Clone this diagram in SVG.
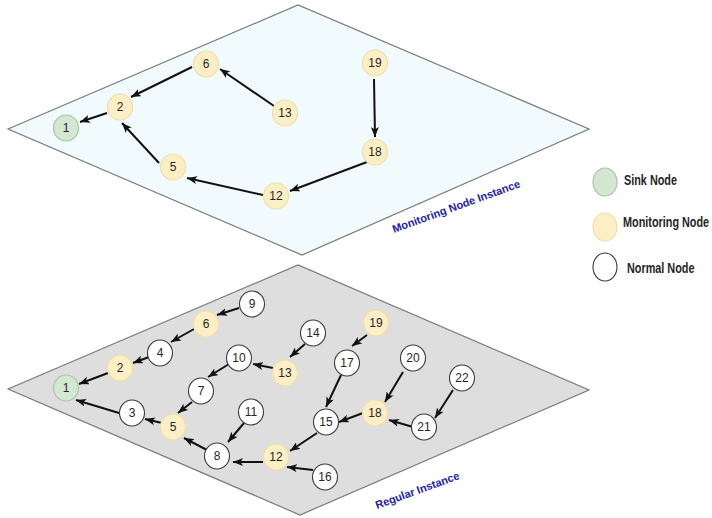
<svg xmlns="http://www.w3.org/2000/svg" width="712" height="518" viewBox="0 0 712 518">
  <style>
    .plane-top { fill: #f1fafc; stroke: #7a7a7a; stroke-width: 1.2; }
    .plane-bottom { fill: #dedede; stroke: #7a7a7a; stroke-width: 1.2; }
    .sink { fill: #d4e7d2; stroke: #a9c6a5; stroke-width: 1.2; }
    .mon { fill: #fcefc6; stroke: #eedfa9; stroke-width: 1.2; }
    .normal { fill: #ffffff; stroke: #3a3a3a; stroke-width: 1.1; }
    .lbl { font-family: "Liberation Sans", Arial, sans-serif; font-size: 12px; fill: #262626; text-anchor: middle; }
    .edge { stroke: #111; stroke-width: 2; fill: none; marker-end: url(#arrow); }
    .legend { font-family: "Liberation Sans", Arial, sans-serif; font-size: 14px; font-weight: bold; fill: #262626; }
    .plane-name { font-family: "Liberation Sans", Arial, sans-serif; font-size: 11px; font-weight: bold; fill: #2323a6; }
  </style>
  <defs>
    <marker id="arrow" markerWidth="10" markerHeight="8" refX="10" refY="4" orient="auto" markerUnits="userSpaceOnUse">
      <path d="M0,0 L10,4 L0,8 L2.5,4 Z" fill="#111"/>
    </marker>
  </defs>

  <!-- planes -->
  <polygon class="plane-top" points="8,129 298,5 589,129 302,255"/>
  <polygon class="plane-bottom" points="8,389 298,265 589,390 300,515"/>
  <text class="plane-name" transform="translate(394,233) rotate(-20)">Monitoring Node Instance</text>
  <text class="plane-name" transform="translate(377,509) rotate(-20)">Regular Instance</text>

  <!-- connectors -->
  <g id="connectors">
    <!-- monitoring instance -->
    <line class="edge" x1="107" y1="113" x2="80" y2="122"/>
    <line class="edge" x1="192" y1="67" x2="131" y2="97"/>
    <line class="edge" x1="274" y1="106" x2="220" y2="69"/>
    <line class="edge" x1="159" y1="163" x2="122" y2="123"/>
    <line class="edge" x1="263" y1="195" x2="187" y2="178"/>
    <line class="edge" x1="367" y1="162" x2="290" y2="191"/>
    <line class="edge" x1="374" y1="79" x2="375" y2="137"/>
    <!-- regular instance -->
    <line class="edge" x1="239" y1="308" x2="217" y2="315"/>
    <line class="edge" x1="194" y1="329" x2="171" y2="342"/>
    <line class="edge" x1="149" y1="357" x2="133" y2="363"/>
    <line class="edge" x1="108" y1="373" x2="79" y2="384"/>
    <line class="edge" x1="119" y1="413" x2="76" y2="400"/>
    <line class="edge" x1="162" y1="423" x2="145" y2="419"/>
    <line class="edge" x1="192" y1="402" x2="178" y2="413"/>
    <line class="edge" x1="229" y1="364" x2="208" y2="377"/>
    <line class="edge" x1="273" y1="368" x2="253" y2="364"/>
    <line class="edge" x1="305" y1="344" x2="290" y2="357"/>
    <line class="edge" x1="244" y1="423" x2="228" y2="442"/>
    <line class="edge" x1="207" y1="450" x2="184" y2="438"/>
    <line class="edge" x1="263" y1="462" x2="233" y2="462"/>
    <line class="edge" x1="313" y1="470" x2="287" y2="467"/>
    <line class="edge" x1="317" y1="433" x2="290" y2="451"/>
    <line class="edge" x1="341" y1="375" x2="326" y2="407"/>
    <line class="edge" x1="367" y1="335" x2="352" y2="346"/>
    <line class="edge" x1="363" y1="413" x2="339" y2="422"/>
    <line class="edge" x1="403" y1="372" x2="385" y2="402"/>
    <line class="edge" x1="413" y1="427" x2="389" y2="420"/>
    <line class="edge" x1="453" y1="390" x2="435" y2="418"/>
  </g>

  <!-- monitoring node instance -->
  <g id="m1"><ellipse class="sink" cx="66" cy="128" rx="12.5" ry="13"/><text class="lbl" x="66" y="132">1</text></g>
  <g id="m2"><ellipse class="mon" cx="120" cy="107" rx="12.5" ry="13"/><text class="lbl" x="120" y="111">2</text></g>
  <g id="m6"><ellipse class="mon" cx="206" cy="64" rx="12.5" ry="13"/><text class="lbl" x="206" y="68">6</text></g>
  <g id="m13"><ellipse class="mon" cx="285" cy="113" rx="12.5" ry="13"/><text class="lbl" x="285" y="117">13</text></g>
  <g id="m5"><ellipse class="mon" cx="173" cy="167" rx="12.5" ry="13"/><text class="lbl" x="173" y="171">5</text></g>
  <g id="m12"><ellipse class="mon" cx="276" cy="196" rx="12.5" ry="13"/><text class="lbl" x="276" y="200">12</text></g>
  <g id="m19"><ellipse class="mon" cx="375" cy="63" rx="12.5" ry="13"/><text class="lbl" x="375" y="67">19</text></g>
  <g id="m18"><ellipse class="mon" cx="375" cy="152" rx="12.5" ry="13"/><text class="lbl" x="375" y="156">18</text></g>

  <!-- regular instance -->
  <g id="r1"><ellipse class="sink" cx="66" cy="388" rx="12.5" ry="13"/><text class="lbl" x="66" y="392">1</text></g>
  <g id="r2"><ellipse class="mon" cx="120" cy="368" rx="12.5" ry="13"/><text class="lbl" x="120" y="372">2</text></g>
  <g id="r4"><ellipse class="normal" cx="160" cy="353" rx="12.5" ry="13"/><text class="lbl" x="160" y="357">4</text></g>
  <g id="r6"><ellipse class="mon" cx="206" cy="324" rx="12.5" ry="13"/><text class="lbl" x="206" y="328">6</text></g>
  <g id="r9"><ellipse class="normal" cx="252" cy="304" rx="12.5" ry="13"/><text class="lbl" x="252" y="308">9</text></g>
  <g id="r3"><ellipse class="normal" cx="132" cy="413" rx="12.5" ry="13"/><text class="lbl" x="132" y="417">3</text></g>
  <g id="r5"><ellipse class="mon" cx="173" cy="427" rx="12.5" ry="13"/><text class="lbl" x="173" y="431">5</text></g>
  <g id="r7"><ellipse class="normal" cx="201" cy="391" rx="12.5" ry="13"/><text class="lbl" x="201" y="395">7</text></g>
  <g id="r10"><ellipse class="normal" cx="239" cy="358" rx="12.5" ry="13"/><text class="lbl" x="239" y="362">10</text></g>
  <g id="r13"><ellipse class="mon" cx="285" cy="373" rx="12.5" ry="13"/><text class="lbl" x="285" y="377">13</text></g>
  <g id="r14"><ellipse class="normal" cx="313" cy="333" rx="12.5" ry="13"/><text class="lbl" x="313" y="337">14</text></g>
  <g id="r11"><ellipse class="normal" cx="251" cy="412" rx="12.5" ry="13"/><text class="lbl" x="251" y="416">11</text></g>
  <g id="r8"><ellipse class="normal" cx="217" cy="456" rx="12.5" ry="13"/><text class="lbl" x="217" y="460">8</text></g>
  <g id="r12"><ellipse class="mon" cx="276" cy="457" rx="12.5" ry="13"/><text class="lbl" x="276" y="461">12</text></g>
  <g id="r16"><ellipse class="normal" cx="325" cy="477" rx="12.5" ry="13"/><text class="lbl" x="325" y="481">16</text></g>
  <g id="r15"><ellipse class="normal" cx="326" cy="422" rx="12.5" ry="13"/><text class="lbl" x="326" y="426">15</text></g>
  <g id="r17"><ellipse class="normal" cx="347" cy="363" rx="12.5" ry="13"/><text class="lbl" x="347" y="367">17</text></g>
  <g id="r19"><ellipse class="mon" cx="376" cy="323" rx="12.5" ry="13"/><text class="lbl" x="376" y="327">19</text></g>
  <g id="r20"><ellipse class="normal" cx="413" cy="358" rx="12.5" ry="13"/><text class="lbl" x="413" y="362">20</text></g>
  <g id="r22"><ellipse class="normal" cx="462" cy="378" rx="12.5" ry="13"/><text class="lbl" x="462" y="382">22</text></g>
  <g id="r18"><ellipse class="mon" cx="375" cy="413" rx="12.5" ry="13"/><text class="lbl" x="375" y="417">18</text></g>
  <g id="r21"><ellipse class="normal" cx="424" cy="427" rx="12.5" ry="13"/><text class="lbl" x="424" y="431">21</text></g>

  <!-- legend (labels narrowed horizontally) -->
  <g id="legend">
    <g id="legend-sink"><ellipse class="sink" cx="605" cy="182" rx="12" ry="14"/><text class="legend" transform="translate(624,185) scale(0.775,1)">Sink Node</text></g>
    <g id="legend-monitoring"><ellipse class="mon" cx="605" cy="227" rx="12" ry="14"/><text class="legend" transform="translate(623,227) scale(0.775,1)">Monitoring Node</text></g>
    <g id="legend-normal"><ellipse class="normal" cx="605" cy="267" rx="12" ry="14"/><text class="legend" transform="translate(627,273) scale(0.775,1)">Normal Node</text></g>
  </g>
</svg>
